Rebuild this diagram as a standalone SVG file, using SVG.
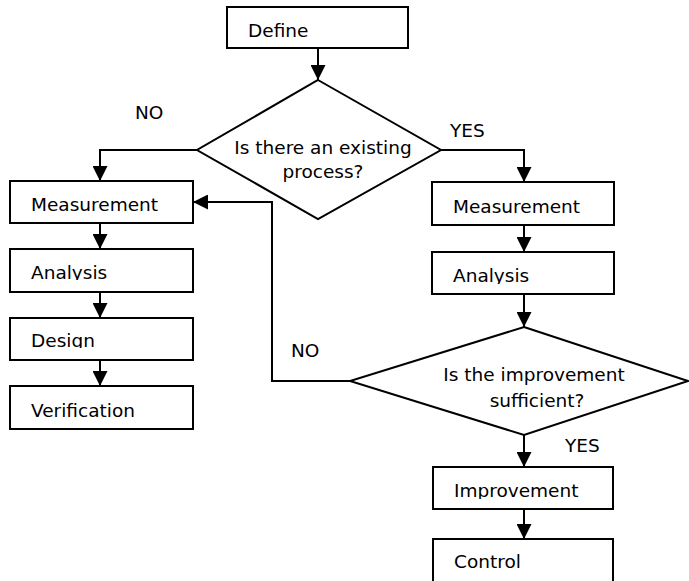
<svg xmlns="http://www.w3.org/2000/svg" width="689" height="581" viewBox="0 0 689 581">
<style>
.box{fill:#fff;stroke:#000;stroke-width:2}
.dia{fill:#fff;stroke:#000;stroke-width:2;stroke-linejoin:miter}
.t{font-family:"DejaVu Sans",sans-serif;font-size:18.5px;fill:#000}
.c{text-anchor:middle}
.ln{fill:none;stroke:#000;stroke-width:2}
</style>
<defs>
<marker id="ah" viewBox="0 0 14 14" refX="14" refY="7" markerWidth="15" markerHeight="15" markerUnits="userSpaceOnUse" orient="auto">
<path d="M0,0 L14,7 L0,14 z" fill="#000"/>
</marker>
<clipPath id="cA1"><rect x="10" y="249" width="183" height="31"/></clipPath>
<clipPath id="cD1"><rect x="10" y="318" width="183" height="30"/></clipPath>
<clipPath id="cA2"><rect x="432" y="252" width="182" height="32"/></clipPath>
<clipPath id="cI"><rect x="433" y="467" width="180" height="32"/></clipPath>
</defs>
<g id="connectors">
<path class="ln" d="M318,48 V80" marker-end="url(#ah)"/>
<path class="ln" d="M197,150 H100 V181" marker-end="url(#ah)"/>
<path class="ln" d="M441,150 H524 V182" marker-end="url(#ah)"/>
<path class="ln" d="M100,223 V249" marker-end="url(#ah)"/>
<path class="ln" d="M100,292 V318" marker-end="url(#ah)"/>
<path class="ln" d="M100,360 V386" marker-end="url(#ah)"/>
<path class="ln" d="M524,225 V252" marker-end="url(#ah)"/>
<path class="ln" d="M524,294 V327" marker-end="url(#ah)"/>
<path class="ln" d="M350,381 H272 V202 H193" marker-end="url(#ah)"/>
<path class="ln" d="M524,435 V467" marker-end="url(#ah)"/>
<path class="ln" d="M524,509 V539" marker-end="url(#ah)"/>
<text class="t" x="135" y="119">NO</text>
<text class="t" x="450" y="137">YES</text>
<text class="t" x="291" y="357">NO</text>
<text class="t" x="565" y="452">YES</text>
</g>
<g id="define">
<rect class="box" x="227" y="7" width="181" height="41"/>
<text class="t" x="248" y="37">Define</text>
</g>
<g id="decision1">
<polygon class="dia" points="318,80 441,150 318,219 197,150"/>
<text class="t c" x="323" y="154">Is there an existing</text>
<text class="t c" x="323" y="178">process?</text>
</g>
<g id="measurement-left">
<rect class="box" x="10" y="181" width="183" height="42"/>
<text class="t" x="31" y="211">Measurement</text>
</g>
<g id="analysis-left">
<rect class="box" x="10" y="249" width="183" height="43"/>
<text class="t" x="31" y="279" clip-path="url(#cA1)">Analysis</text>
</g>
<g id="design">
<rect class="box" x="10" y="318" width="183" height="42"/>
<text class="t" x="31" y="347" clip-path="url(#cD1)">Design</text>
</g>
<g id="verification">
<rect class="box" x="10" y="386" width="183" height="43"/>
<text class="t" x="31" y="417">Verification</text>
</g>
<g id="measurement-right">
<rect class="box" x="432" y="182" width="182" height="43"/>
<text class="t" x="453" y="213">Measurement</text>
</g>
<g id="analysis-right">
<rect class="box" x="432" y="252" width="182" height="42"/>
<text class="t" x="453" y="282" clip-path="url(#cA2)">Analysis</text>
</g>
<g id="decision2">
<polygon class="dia" points="524,327 688,381 524,435 350,381"/>
<text class="t c" x="534" y="381">Is the improvement</text>
<text class="t c" x="537" y="407">sufficient?</text>
</g>
<g id="improvement">
<rect class="box" x="433" y="467" width="180" height="42"/>
<text class="t" x="454" y="497" clip-path="url(#cI)">Improvement</text>
</g>
<g id="control">
<rect class="box" x="433" y="539" width="180" height="44"/>
<text class="t" x="454" y="568">Control</text>
</g>
</svg>
